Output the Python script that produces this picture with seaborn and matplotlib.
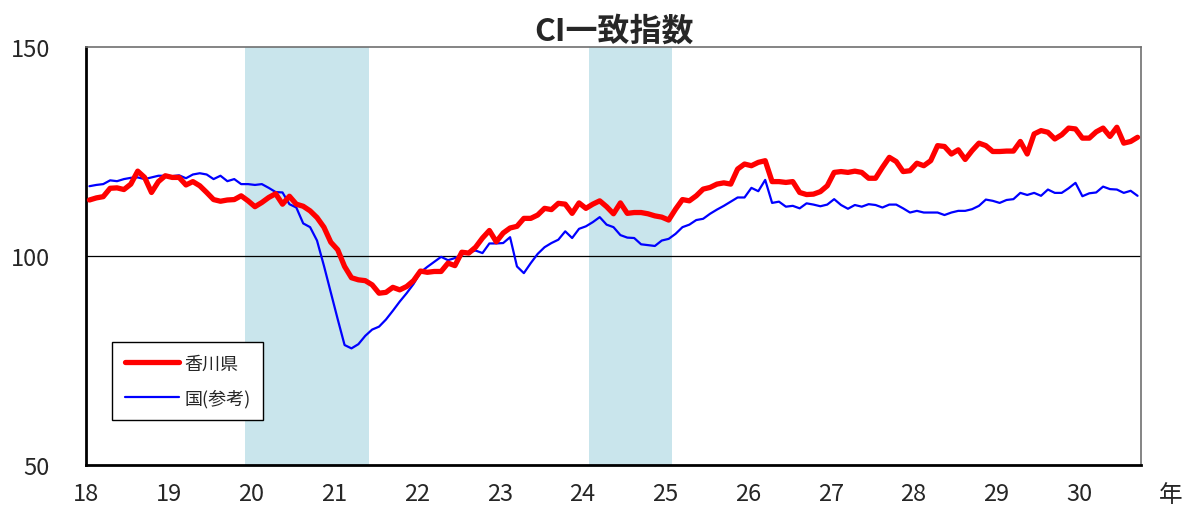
import numpy as np
import pandas as pd
import matplotlib
matplotlib.use("Agg")
import matplotlib.pyplot as plt
from matplotlib.lines import Line2D
import seaborn as sns

# monthly CI (Jan H18 - Sep H30)
kagawa = [113.4, 113.9, 114.2, 116.2, 116.3, 115.9, 117.2, 120.3, 118.8, 115.2,
          117.8, 119.2, 118.8, 118.8, 117.0, 117.8, 116.8, 115.2, 113.5, 113.1,
          113.4, 113.5, 114.4, 113.2, 111.8, 112.8, 114.0, 114.9, 112.4, 114.3,
          112.4, 111.9, 110.8, 109.2, 106.9, 103.3, 101.5, 97.5, 94.8, 94.3,
          94.1, 93.1, 91.1, 91.3, 92.5, 91.9, 92.7, 94.1, 96.4, 96.1,
          96.3, 96.3, 98.3, 97.7, 100.9, 100.7, 102.1, 104.3, 106.1, 103.4,
          105.5, 106.7, 107.1, 109.0, 109.0, 109.8, 111.4, 111.1, 112.6, 112.4,
          110.2, 112.7, 111.4, 112.4, 113.2, 111.8, 110.1, 112.7, 110.2, 110.4,
          110.4, 110.1, 109.6, 109.3, 108.6, 111.2, 113.5, 113.2, 114.4, 116.0,
          116.4, 117.2, 117.5, 117.2, 120.8, 122.0, 121.6, 122.4, 122.8, 117.8,
          117.8, 117.6, 117.8, 115.2, 114.7, 114.8, 115.4, 116.8, 120.0, 120.2,
          120.0, 120.3, 120.0, 118.6, 118.6, 121.2, 123.6, 122.6, 120.2, 120.4,
          122.2, 121.6, 122.8, 126.4, 126.2, 124.4, 125.4, 123.1, 125.2, 127.0,
          126.4, 125.0, 125.0, 125.1, 125.1, 127.4, 124.4, 129.2, 130.0, 129.6,
          128.0, 129.0, 130.6, 130.4, 128.2, 128.2, 129.7, 130.6, 128.6, 130.8,
          127.0, 127.4, 128.4]
kuni = [116.7, 117.0, 117.2, 118.1, 117.9, 118.4, 118.7, 118.8, 118.4, 118.8,
        119.2, 119.2, 119.1, 119.3, 118.6, 119.5, 119.8, 119.5, 118.4, 119.2,
        117.9, 118.4, 117.2, 117.2, 117.0, 117.2, 116.3, 115.3, 115.2, 112.4,
        111.6, 107.8, 106.9, 103.7, 97.7, 91.3, 84.9, 78.7, 77.9, 78.9,
        80.9, 82.4, 83.1, 84.8, 86.9, 89.1, 91.1, 93.3, 96.1, 97.4,
        98.6, 99.8, 99.0, 99.5, 100.3, 100.9, 101.3, 100.7, 103.0, 103.0,
        103.1, 104.5, 97.5, 95.9, 98.3, 100.5, 102.1, 103.1, 103.9, 105.9,
        104.3, 106.5, 107.1, 108.1, 109.3, 107.5, 106.9, 105.0, 104.4, 104.3,
        102.8, 102.6, 102.4, 103.7, 104.1, 105.3, 106.9, 107.5, 108.6, 108.9,
        110.1, 111.1, 112.0, 113.0, 114.0, 114.0, 116.3, 115.5, 118.2, 112.7,
        113.0, 111.8, 112.0, 111.4, 112.6, 112.3, 111.9, 112.3, 113.6, 112.2,
        111.3, 112.2, 111.8, 112.4, 112.2, 111.6, 112.3, 112.3, 111.4, 110.4,
        110.8, 110.4, 110.4, 110.4, 109.8, 110.4, 110.8, 110.8, 111.2, 112.0,
        113.5, 113.2, 112.7, 113.4, 113.6, 115.1, 114.6, 115.1, 114.4, 115.9,
        115.1, 115.1, 116.2, 117.5, 114.3, 115.0, 115.2, 116.6, 116.0, 115.9,
        115.1, 115.6, 114.4]
year_labels = [str(y) for y in range(18, 31)]
# shaded (recession) periods as month indices, first and last month
recession_start = [23, 73]
recession_end = [40, 84]

df = pd.DataFrame({"month": np.arange(len(kagawa)), "kagawa": kagawa, "kuni": kuni})

sns.set_theme(style="white")
plt.rcParams["font.family"] = ["Noto Sans CJK JP", "DejaVu Sans"]

fig = plt.figure(figsize=(11.83, 5.10), dpi=100)
ax = fig.add_axes([86 / 1183, 1 - 466 / 510, 1055 / 1183, 418 / 510])

for s, e in zip(recession_start, recession_end):
    ax.axvspan(s - 0.5, e + 0.5, color="#c9e5ec", lw=0, zorder=0)

ax.axhline(100, color="black", lw=0.9, zorder=1)

sns.lineplot(data=df, x="month", y="kuni", color="#0000ff", lw=1.6, ax=ax, zorder=3)
sns.lineplot(data=df, x="month", y="kagawa", color="#ff0000", lw=3.8, ax=ax, zorder=4)

ax.set_xlim(-0.5, len(kagawa) - 0.5)
ax.set_ylim(50, 150)
ax.set_xticks([12 * i - 0.5 for i in range(len(year_labels))])
ax.set_xticklabels(year_labels, fontsize=17)
ax.set_yticks([50, 100, 150])
ax.set_yticklabels(["50", "100", "150"], fontsize=17)
ax.tick_params(axis="both", direction="in", length=6, width=1, color="black")
ax.tick_params(axis="x", pad=12)
ax.tick_params(axis="y", pad=26)
ax.set_xlabel("")
ax.set_ylabel("")

for side in ["left", "bottom"]:
    ax.spines[side].set_color("black")
    ax.spines[side].set_linewidth(2)
for side in ["top", "right"]:
    ax.spines[side].set_color("#707070")
    ax.spines[side].set_linewidth(1.2)

ax.text(1.028, -0.07, "年", transform=ax.transAxes, fontsize=17, ha="center", va="center")
ax.set_title("CI一致指数", fontsize=23, fontweight="bold", pad=5)

handles = [Line2D([], [], color="#ff0000", lw=3.8), Line2D([], [], color="#0000ff", lw=1.6)]
leg = ax.legend(handles, ["香川県", "国(参考)"], loc="upper left",
                bbox_to_anchor=(0.0246, 0.294), borderaxespad=0, fontsize=13,
                frameon=True, fancybox=False, edgecolor="black", framealpha=1,
                handlelength=3.0, labelspacing=0.9, borderpad=0.7, handletextpad=0.3)
leg.get_frame().set_linewidth(1)

fig.savefig("out.png", dpi=100)
